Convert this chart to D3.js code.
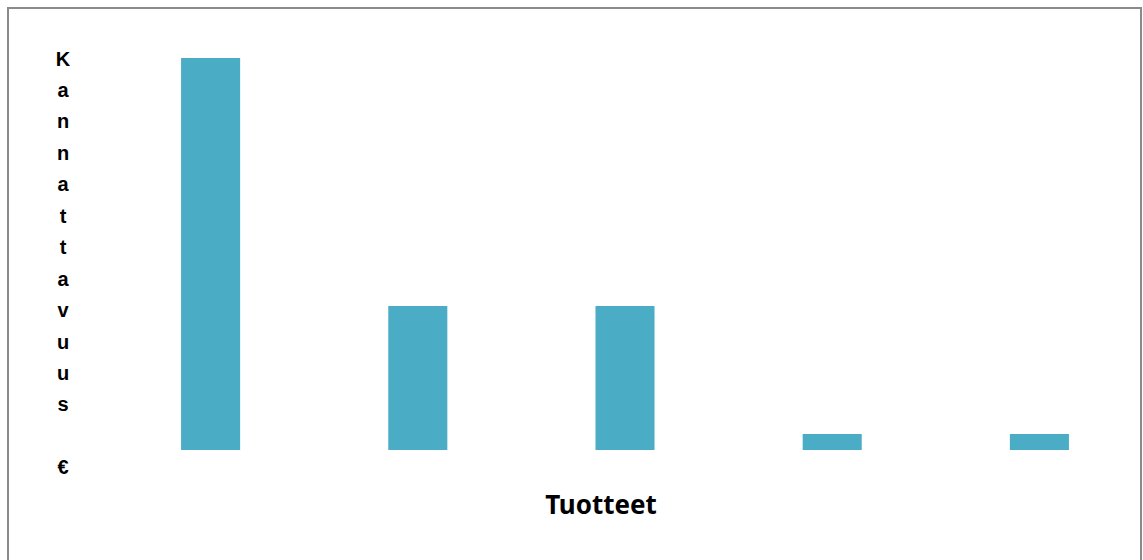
<!DOCTYPE html>
<html>
<head>
<meta charset="utf-8">
<script src="https://cdn.jsdelivr.net/npm/d3@7"></script>
<style>
  html, body { margin: 0; padding: 0; background: #fff; }
  svg { display: block; }
</style>
</head>
<body>
<script>
// products (no tick labels shown in the original) and their profitability
const products = ["Tuote 1", "Tuote 2", "Tuote 3", "Tuote 4", "Tuote 5"];
const profit = [24.5, 9, 9, 1, 1];
const yLetters = ["K", "a", "n", "n", "a", "t", "t", "a", "v", "u", "u", "s", "", "€"];
const xTitle = "Tuotteet";

const width = 1143, height = 560;

const svg = d3.select("body").append("svg")
  .attr("width", width)
  .attr("height", height);

// outer frame
svg.append("rect")
  .attr("x", 8).attr("y", 8)
  .attr("width", 1133).attr("height", 570)
  .attr("fill", "none")
  .attr("stroke", "#8a8a8a")
  .attr("stroke-width", 2);

const x = d3.scaleBand()
  .domain(products)
  .range([107, 1143])
  .paddingInner(0.715)
  .paddingOuter(0.3575);

const y = d3.scaleLinear()
  .domain([0, 25])
  .range([450, 50]);

svg.append("g")
  .selectAll("rect")
  .data(products)
  .join("rect")
  .attr("x", d => x(d))
  .attr("width", x.bandwidth())
  .attr("y", (d, i) => y(profit[i]))
  .attr("height", (d, i) => y(0) - y(profit[i]))
  .attr("fill", "#4BACC6");

// stacked y axis title
svg.append("g")
  .selectAll("text")
  .data(yLetters)
  .join("text")
  .attr("x", 63)
  .attr("y", (d, i) => 65.5 + i * 31.45)
  .attr("text-anchor", "middle")
  .style("font-family", "'Liberation Sans', Arial, sans-serif")
  .style("font-weight", "bold")
  .style("font-size", "20px")
  .text(d => d);

svg.append("text")
  .attr("x", 601)
  .attr("y", 514)
  .attr("text-anchor", "middle")
  .style("font-family", "'Noto Sans', sans-serif")
  .style("font-weight", "bold")
  .style("font-size", "26px")
  .text(xTitle);
</script>
</body>
</html>
